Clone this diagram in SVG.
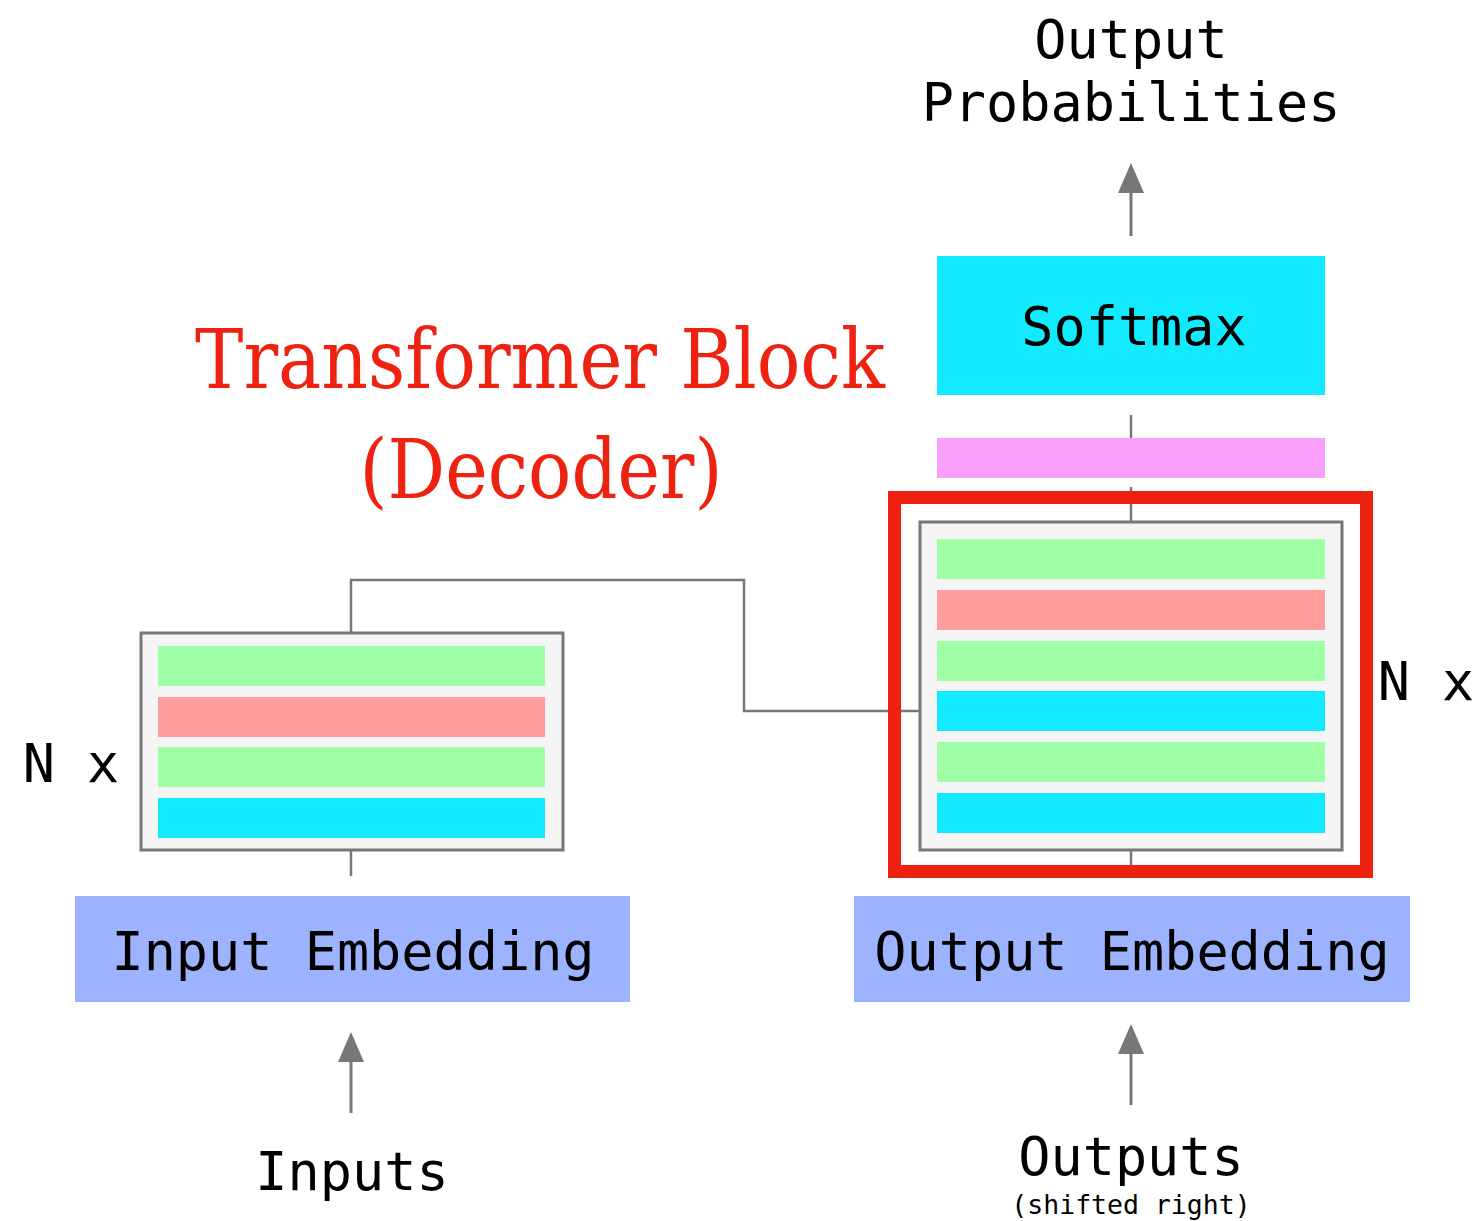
<svg xmlns="http://www.w3.org/2000/svg" width="1484" height="1221" viewBox="0 0 1484 1221">
  <style>
    .mono { font-family: "DejaVu Sans Mono", "Liberation Mono", monospace; fill: #000; }
    .lbl { font-size: 53.5px; text-anchor: middle; }
    .title { font-family: "DejaVu Serif", "Liberation Serif", serif; font-size: 82px; fill: #EE2211; text-anchor: middle; }
    .frame { fill: #F5F5F5; stroke: #777; stroke-width: 3; }
    .ffn { fill: #A0FFA6; }
    .attn { fill: #FF9E9C; }
    .norm { fill: #12EAFF; }
    .emb { fill: #9DB3FF; }
    .lin { fill: #F9A0FC; }
    .wire { fill: none; stroke: #777; stroke-width: 2.5; }
    .arrow { fill: none; stroke: #777; stroke-width: 3; }
    .head { fill: #777; }
  </style>

  <!-- connectors -->
  <g id="connectors">
    <polyline class="wire" points="351,633 351,580 744,580 744,711 920,711"/>
    <line class="wire" x1="351" y1="850" x2="351" y2="876"/>
    <line class="wire" x1="1131" y1="850" x2="1131" y2="866"/>
    <line class="wire" x1="1131" y1="487" x2="1131" y2="522"/>
    <line class="wire" x1="1131" y1="415" x2="1131" y2="438"/>
    <!-- arrows -->
    <line class="arrow" x1="1131" y1="236" x2="1131" y2="190"/>
    <polygon class="head" points="1131,163 1118,193 1144,193"/>
    <line class="arrow" x1="351" y1="1113" x2="351" y2="1060"/>
    <polygon class="head" points="351,1032 338,1062 364,1062"/>
    <line class="arrow" x1="1131" y1="1105" x2="1131" y2="1052"/>
    <polygon class="head" points="1131,1024 1118,1054 1144,1054"/>
  </g>

  <!-- encoder stack -->
  <g id="encoder">
    <rect class="frame" x="141" y="633" width="422" height="217"/>
    <rect class="ffn" x="158" y="646" width="387" height="40"/>
    <rect class="attn" x="158" y="697" width="387" height="40"/>
    <rect class="ffn" x="158" y="747" width="387" height="40"/>
    <rect class="norm" x="158" y="798" width="387" height="40"/>
    <text class="mono lbl" x="71" y="782">N x</text>
  </g>

  <!-- decoder stack -->
  <g id="decoder">
    <rect class="frame" x="920" y="522" width="422" height="328"/>
    <rect class="ffn" x="937" y="539" width="388" height="40"/>
    <rect class="attn" x="937" y="590" width="388" height="40"/>
    <rect class="ffn" x="937" y="641" width="388" height="40"/>
    <rect class="norm" x="937" y="691" width="388" height="40"/>
    <rect class="ffn" x="937" y="742" width="388" height="40"/>
    <rect class="norm" x="937" y="793" width="388" height="40"/>
    <text class="mono lbl" x="1426" y="700">N x</text>
  </g>

  <!-- highlight around the decoder block -->
  <g id="highlight">
    <rect x="894.5" y="497.5" width="472" height="374" fill="none" stroke="#EE2211" stroke-width="13"/>
  </g>

  <g id="linear">
    <rect class="lin" x="937" y="438" width="388" height="40"/>
  </g>

  <g id="softmax">
    <rect class="norm" x="937" y="256" width="388" height="139"/>
    <text class="mono lbl" x="1134" y="345">Softmax</text>
  </g>

  <g id="input-embedding">
    <rect class="emb" x="75" y="896" width="555" height="106"/>
    <text class="mono lbl" x="353" y="970">Input Embedding</text>
  </g>

  <g id="output-embedding">
    <rect class="emb" x="854" y="896" width="556" height="106"/>
    <text class="mono lbl" x="1132" y="970">Output Embedding</text>
  </g>

  <g id="output-probabilities">
    <text class="mono lbl" x="1131" y="58">Output</text>
    <text class="mono lbl" x="1131" y="121">Probabilities</text>
  </g>

  <g id="inputs">
    <text class="mono lbl" x="352" y="1190">Inputs</text>
  </g>

  <g id="outputs">
    <text class="mono lbl" x="1131" y="1175">Outputs</text>
    <text class="mono" x="1131" y="1214" font-size="26.5" text-anchor="middle">(shifted right)</text>
  </g>

  <g id="title">
    <text class="title" x="540" y="388" textLength="690" lengthAdjust="spacingAndGlyphs">Transformer Block</text>
    <text class="title" x="541" y="498" textLength="363" lengthAdjust="spacingAndGlyphs">(Decoder)</text>
  </g>
</svg>
